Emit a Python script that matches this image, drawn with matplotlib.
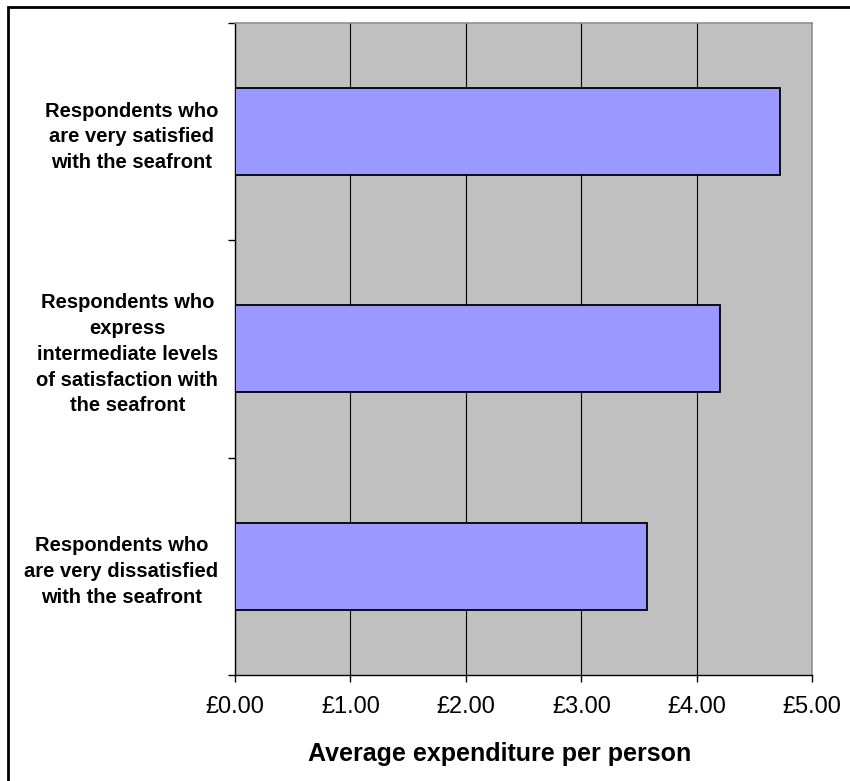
import matplotlib.pyplot as plt
from matplotlib.patches import Rectangle

# data (bottom to top)
categories = [
    "Respondents who\nare very dissatisfied\nwith the seafront",
    "Respondents who\nexpress\nintermediate levels\nof satisfaction with\nthe seafront",
    "Respondents who\nare very satisfied\nwith the seafront",
]
spend = [3.57, 4.20, 4.72]
xticks = [0, 1, 2, 3, 4, 5]
xtick_labels = ["£0.00", "£1.00", "£2.00", "£3.00", "£4.00", "£5.00"]

plt.rcParams['font.family'] = ['Liberation Sans', 'DejaVu Sans']

fig = plt.figure(figsize=(8.5, 7.81), dpi=100)
ax = fig.add_axes([0.2765, 0.1357, 0.679, 0.835])
ax.set_facecolor('#C0C0C0')

pos = list(range(len(categories)))
ax.barh(pos, spend, height=0.4, color='#9999FF', edgecolor='black', linewidth=1.3, zorder=3)

ax.set_xlim(0, 5)
ax.set_ylim(-0.5, 2.5)

# x axis
ax.set_xticks(xticks)
ax.set_xticklabels(xtick_labels, fontsize=17)
ax.tick_params(axis='x', direction='out', length=5, width=1, pad=10)
ax.xaxis.grid(True, color='black', linewidth=0.8, zorder=1)
ax.set_axisbelow(True)
ax.set_xlabel("Average expenditure per person", fontsize=18, fontweight='bold')
ax.xaxis.set_label_coords(0.459, -0.102)

# y axis: ticks at category boundaries, labels at centres
ax.set_yticks([-0.5, 0.5, 1.5, 2.5])
ax.set_yticklabels([])
ax.tick_params(axis='y', which='major', direction='out', length=5, width=1)
ax.set_yticks(pos, minor=True)
ax.set_yticklabels(categories, minor=True, fontsize=14.5, fontweight='bold',
                   multialignment='center', linespacing=1.45)
ax.tick_params(axis='y', which='minor', length=0, pad=12)

for side in ['left', 'bottom']:
    ax.spines[side].set_color('black')
    ax.spines[side].set_linewidth(1)
for side in ['top', 'right']:
    ax.spines[side].set_color('#909090')
    ax.spines[side].set_linewidth(1.2)

# outer chart border
fig.patches.append(Rectangle((8 / 850, -0.05), 1.2, 1 - 7 / 781 + 0.05,
                             transform=fig.transFigure, fill=False,
                             edgecolor='black', linewidth=2))

fig.savefig("out.png", dpi=100)
